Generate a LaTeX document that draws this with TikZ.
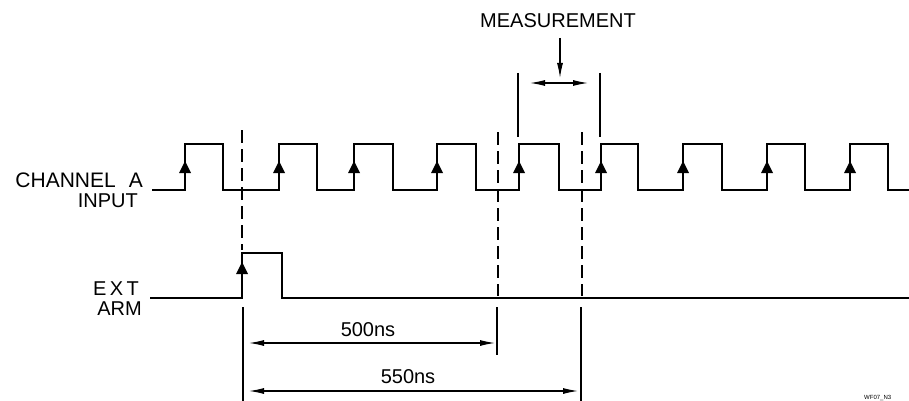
\documentclass[tikz,border=0pt]{standalone}
\usepackage{fontspec}
\setmainfont{Liberation Sans}
\usetikzlibrary{arrows.meta}
\begin{document}
\begin{tikzpicture}[x=1pt,y=-1pt,
  signal/.style={line width=2.8pt,line join=miter},
  thin/.style={line width=1.1pt},
  dashline/.style={line width=1.1pt,dash pattern=on 13pt off 6pt},
  dim/.style={line width=1.1pt,{Latex[length=15pt,width=6pt]}-{Latex[length=15pt,width=6pt]}},
  lbl/.style={font=\fontsize{20}{24}\selectfont,inner sep=0pt},
  lblb/.style={font=\fontsize{21}{25}\selectfont,inner sep=0pt},
  rise/.pic={\fill (0,-6) -- (6,6) -- (-6,6) -- cycle;}
]
\useasboundingbox (0,0) rectangle (909,401);

% labels
\node[lblb,anchor=base east] (chA) at (143,187) {CHANNEL\hspace{13pt}A};
\node[lbl,anchor=base east] (inp) at (138,207) {INPUT};
\node[lbl,anchor=base east] (ext) at (139,295) {E\,X\,T};
\node[lbl,anchor=base east] (arm) at (142,315) {ARM};
\node[lbl,anchor=base] (meas) at (558,28) {MEASUREMENT};
\node[lbl,anchor=base] (t500) at (368,336) {500ns};
\node[lbl,anchor=base] (t550) at (408,383) {550ns};
\node[font=\fontsize{6}{7}\selectfont,inner sep=0pt,anchor=north west] (ref) at (864,395) {WF07\_N3};

% channel A signal
\draw[signal] (152,190) -- (185,190) -- (185,144) -- (223,144) -- (223,190)
  -- (279,190) -- (279,144) -- (317,144) -- (317,190)
  -- (354,190) -- (354,144) -- (393,144) -- (393,190)
  -- (437,190) -- (437,144) -- (476,144) -- (476,190)
  -- (519,190) -- (519,144) -- (559,144) -- (559,190)
  -- (601,190) -- (601,144) -- (638,144) -- (638,190)
  -- (683,190) -- (683,144) -- (722,144) -- (722,190)
  -- (767,190) -- (767,144) -- (805,144) -- (805,190)
  -- (850,190) -- (850,144) -- (888,144) -- (888,190) -- (909,190);
\foreach \x in {185,279,354,437,519,601,683,767,850}
  \pic at (\x,167) {rise};

% ext arm signal
\draw[signal] (150,298) -- (242,298) -- (242,253) -- (282,253) -- (282,298) -- (909,298);
\pic at (242,268) {rise};

% dashed markers
\coordinate (d1t) at (242,130); \coordinate (d1b) at (242,250);
\coordinate (d2t) at (498,132); \coordinate (d2b) at (498,296);
\coordinate (d3t) at (582,132); \coordinate (d3b) at (582,296);
\draw[dashline] (d1t) -- (d1b);
\draw[dashline] (d2t) -- (d2b);
\draw[dashline] (d3t) -- (d3b);

% extension lines below
\coordinate (e1t) at (243,307); \coordinate (e1b) at (243,401);
\coordinate (e2t) at (497,307); \coordinate (e2b) at (497,355);
\coordinate (e3t) at (581,307); \coordinate (e3b) at (581,401);
\draw[thin] (e1t) -- (e1b);
\draw[thin] (e2t) -- (e2b);
\draw[thin] (e3t) -- (e3b);

% dimension arrows
\coordinate (a1l) at (243,343); \coordinate (a1r) at (497,343);
\coordinate (a2l) at (243,391); \coordinate (a2r) at (581,391);
\draw[dim,shorten <=6pt,shorten >=2pt] (a1l) -- (a1r);
\draw[dim,shorten <=6pt,shorten >=3pt] (a2l) -- (a2r);

% measurement bracket
\coordinate (m1t) at (518,73); \coordinate (m1b) at (518,137);
\coordinate (m2t) at (600,73); \coordinate (m2b) at (600,137);
\draw[thin] (m1t) -- (m1b);
\draw[thin] (m2t) -- (m2b);
\coordinate (ml) at (518,83); \coordinate (mr) at (600,83);
\draw[dim,shorten <=12pt,shorten >=12pt] (ml) -- (mr);
\coordinate (va) at (560,38); \coordinate (vb) at (560,78);
\draw[thin,-{Latex[length=15pt,width=6pt]}] (va) -- (vb);
\end{tikzpicture}
\end{document}
